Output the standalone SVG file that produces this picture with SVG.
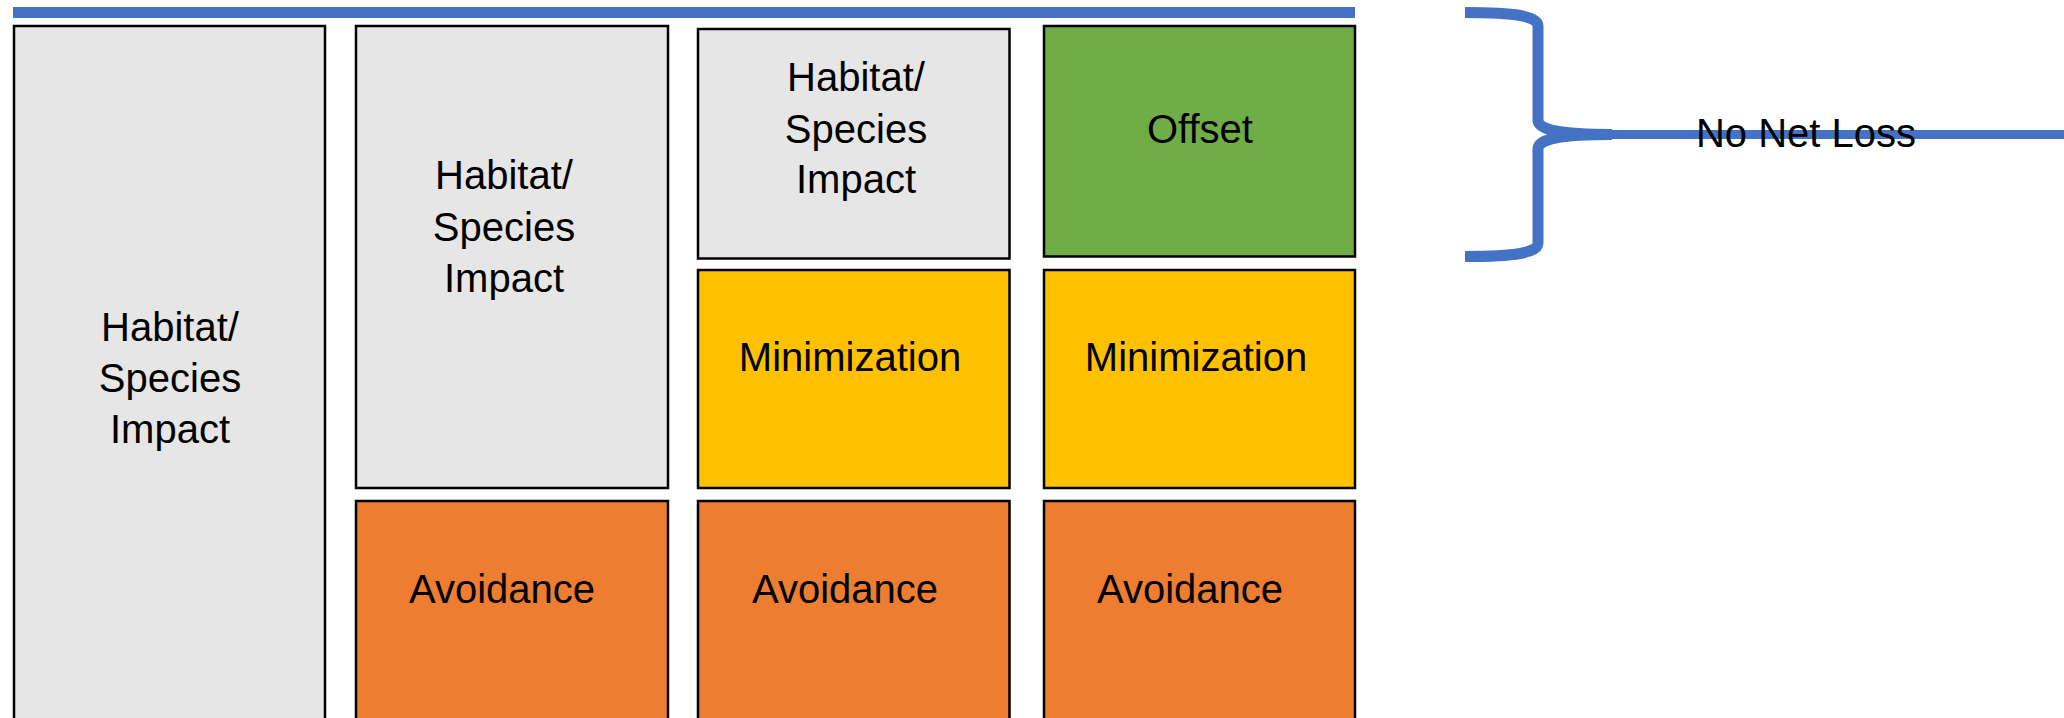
<svg xmlns="http://www.w3.org/2000/svg" width="2064" height="718" viewBox="0 0 2064 718">
<style>
.box{stroke:#000;stroke-width:2.5}
.gray{fill:#E6E6E6}
.green{fill:#70AD47}
.yellow{fill:#FFC000}
.orange{fill:#ED7D31}
.lbl{font-family:"Liberation Sans",Arial,sans-serif;font-size:40px;fill:#000;text-anchor:middle}
.blue{fill:none;stroke:#4472C4}
</style>
<rect x="13" y="7" width="1342" height="11" fill="#4472C4"/>
<g id="impact1">
<rect class="box gray" x="14" y="26" width="311" height="720"/>
<text class="lbl" x="170" y="341">Habitat/</text>
<text class="lbl" x="170" y="392">Species</text>
<text class="lbl" x="170" y="443">Impact</text>
</g>
<g id="impact2">
<rect class="box gray" x="356" y="26" width="312" height="462"/>
<text class="lbl" x="504" y="189">Habitat/</text>
<text class="lbl" x="504" y="241">Species</text>
<text class="lbl" x="504" y="292">Impact</text>
</g>
<g id="avoid2">
<rect class="box orange" x="356" y="501" width="312" height="240"/>
<text class="lbl" x="502" y="603">Avoidance</text>
</g>
<g id="impact3">
<rect class="box gray" x="698" y="29" width="311.5" height="229.5"/>
<text class="lbl" x="856" y="91">Habitat/</text>
<text class="lbl" x="856" y="143">Species</text>
<text class="lbl" x="856" y="193">Impact</text>
</g>
<g id="min3">
<rect class="box yellow" x="698" y="270" width="311.5" height="218"/>
<text class="lbl" x="850" y="371">Minimization</text>
</g>
<g id="avoid3">
<rect class="box orange" x="698" y="501" width="311.5" height="240"/>
<text class="lbl" x="845" y="603">Avoidance</text>
</g>
<g id="offset4">
<rect class="box green" x="1044" y="26" width="311" height="230.5"/>
<text class="lbl" x="1200" y="143">Offset</text>
</g>
<g id="min4">
<rect class="box yellow" x="1044" y="270" width="311" height="218"/>
<text class="lbl" x="1196" y="371">Minimization</text>
</g>
<g id="avoid4">
<rect class="box orange" x="1044" y="501" width="311" height="240"/>
<text class="lbl" x="1190" y="603">Avoidance</text>
</g>
<g id="connectors">
<path class="blue" stroke-width="11" d="M1465,12.5 C1515,12.5 1538,16 1538,26 L1538,120 C1538,130 1560,134.5 1612,134.5"/>
<path class="blue" stroke-width="11" d="M1465,256.5 C1515,256.5 1538,253 1538,243 L1538,149 C1538,139 1560,134.5 1612,134.5"/>
<path class="blue" stroke-width="9" d="M1610,134.5 L2064,134.5"/>
</g>
<g id="nnl">
<text class="lbl" x="1806" y="147">No Net Loss</text>
</g>
</svg>
